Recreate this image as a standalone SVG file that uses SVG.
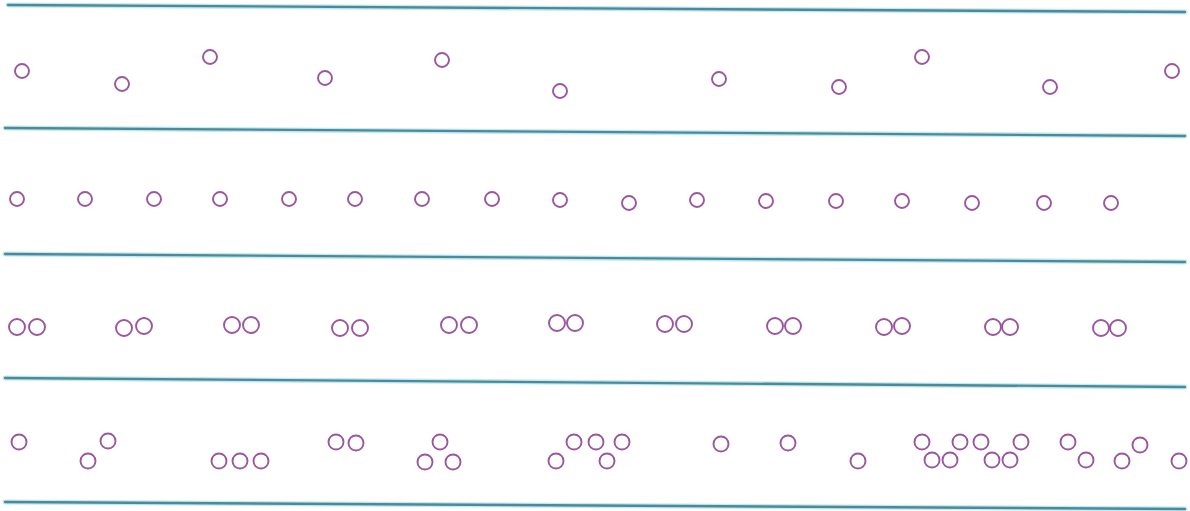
<svg xmlns="http://www.w3.org/2000/svg" width="1190" height="511" viewBox="0 0 1190 511">
<style>
.halo{stroke:#c4e8ef;stroke-width:5;fill:none;stroke-linecap:round}
.rule{stroke:#4a8b9b;stroke-width:2.3;fill:none;stroke-linecap:round}
.c{fill:none;stroke:#9a569e;stroke-width:1.9}
</style>
<rect width="1190" height="511" fill="#ffffff"/>
<g id="rules">
<line class="halo" x1="8" y1="5" x2="1185" y2="12"/>
<line class="halo" x1="5" y1="128" x2="1185" y2="136"/>
<line class="halo" x1="5" y1="254" x2="1185" y2="262"/>
<line class="halo" x1="5" y1="378" x2="1185" y2="387"/>
<line class="halo" x1="5" y1="502" x2="1185" y2="509"/>
<line class="rule" x1="8" y1="5" x2="1185" y2="12"/>
<line class="rule" x1="5" y1="128" x2="1185" y2="136"/>
<line class="rule" x1="5" y1="254" x2="1185" y2="262"/>
<line class="rule" x1="5" y1="378" x2="1185" y2="387"/>
<line class="rule" x1="5" y1="502" x2="1185" y2="509"/>
</g>
<g id="row1">
<circle class="c" cx="22" cy="71" r="7"/>
<circle class="c" cx="122" cy="84" r="7"/>
<circle class="c" cx="210" cy="57" r="7"/>
<circle class="c" cx="325" cy="78" r="7"/>
<circle class="c" cx="442" cy="60" r="7"/>
<circle class="c" cx="560" cy="91" r="7"/>
<circle class="c" cx="719" cy="79" r="7"/>
<circle class="c" cx="839" cy="87" r="7"/>
<circle class="c" cx="922" cy="57" r="7"/>
<circle class="c" cx="1050" cy="87" r="7"/>
<circle class="c" cx="1172" cy="71" r="7"/>
</g>
<g id="row2">
<circle class="c" cx="17" cy="199" r="7"/>
<circle class="c" cx="85" cy="199" r="7"/>
<circle class="c" cx="154" cy="199" r="7"/>
<circle class="c" cx="220" cy="199" r="7"/>
<circle class="c" cx="289" cy="199" r="7"/>
<circle class="c" cx="355" cy="199" r="7"/>
<circle class="c" cx="422" cy="199" r="7"/>
<circle class="c" cx="492" cy="199" r="7"/>
<circle class="c" cx="560" cy="200" r="7"/>
<circle class="c" cx="629" cy="203" r="7"/>
<circle class="c" cx="697" cy="200" r="7"/>
<circle class="c" cx="766" cy="201" r="7"/>
<circle class="c" cx="836" cy="201" r="7"/>
<circle class="c" cx="902" cy="201" r="7"/>
<circle class="c" cx="972" cy="203" r="7"/>
<circle class="c" cx="1044" cy="203" r="7"/>
<circle class="c" cx="1111" cy="203" r="7"/>
</g>
<g id="row3">
<circle class="c" cx="17" cy="327" r="8"/>
<circle class="c" cx="37" cy="327" r="8"/>
<circle class="c" cx="124" cy="328" r="8"/>
<circle class="c" cx="144" cy="326" r="8"/>
<circle class="c" cx="232" cy="325" r="8"/>
<circle class="c" cx="251" cy="325" r="8"/>
<circle class="c" cx="340" cy="328" r="8"/>
<circle class="c" cx="360" cy="328" r="8"/>
<circle class="c" cx="449" cy="325" r="8"/>
<circle class="c" cx="469" cy="325" r="8"/>
<circle class="c" cx="557" cy="323" r="8"/>
<circle class="c" cx="575" cy="323" r="8"/>
<circle class="c" cx="665" cy="324" r="8"/>
<circle class="c" cx="684" cy="324" r="8"/>
<circle class="c" cx="775" cy="326" r="8"/>
<circle class="c" cx="793" cy="326" r="8"/>
<circle class="c" cx="884" cy="327" r="8"/>
<circle class="c" cx="902" cy="326" r="8"/>
<circle class="c" cx="993" cy="327" r="8"/>
<circle class="c" cx="1010" cy="327" r="8"/>
<circle class="c" cx="1101" cy="328" r="8"/>
<circle class="c" cx="1118" cy="328" r="8"/>
</g>
<g id="row4">
<circle class="c" cx="19" cy="442" r="7.5"/>
<circle class="c" cx="88" cy="461" r="7.5"/>
<circle class="c" cx="108" cy="441" r="7.5"/>
<circle class="c" cx="219" cy="461" r="7.5"/>
<circle class="c" cx="240" cy="461" r="7.5"/>
<circle class="c" cx="261" cy="461" r="7.5"/>
<circle class="c" cx="336" cy="442" r="7.5"/>
<circle class="c" cx="356" cy="443" r="7.5"/>
<circle class="c" cx="440" cy="442" r="7.5"/>
<circle class="c" cx="425" cy="462" r="7.5"/>
<circle class="c" cx="453" cy="462" r="7.5"/>
<circle class="c" cx="556" cy="461" r="7.5"/>
<circle class="c" cx="574" cy="442" r="7.5"/>
<circle class="c" cx="596" cy="442" r="7.5"/>
<circle class="c" cx="607" cy="461" r="7.5"/>
<circle class="c" cx="622" cy="442" r="7.5"/>
<circle class="c" cx="721" cy="444" r="7.5"/>
<circle class="c" cx="788" cy="443" r="7.5"/>
<circle class="c" cx="858" cy="461" r="7.5"/>
<circle class="c" cx="922" cy="442" r="7.5"/>
<circle class="c" cx="932" cy="460" r="7.5"/>
<circle class="c" cx="950" cy="460" r="7.5"/>
<circle class="c" cx="960" cy="442" r="7.5"/>
<circle class="c" cx="981" cy="442" r="7.5"/>
<circle class="c" cx="992" cy="460" r="7.5"/>
<circle class="c" cx="1010" cy="460" r="7.5"/>
<circle class="c" cx="1021" cy="442" r="7.5"/>
<circle class="c" cx="1068" cy="442" r="7.5"/>
<circle class="c" cx="1086" cy="460" r="7.5"/>
<circle class="c" cx="1122" cy="461" r="7.5"/>
<circle class="c" cx="1140" cy="445" r="7.5"/>
<circle class="c" cx="1179" cy="461" r="7.5"/>
</g>
</svg>
